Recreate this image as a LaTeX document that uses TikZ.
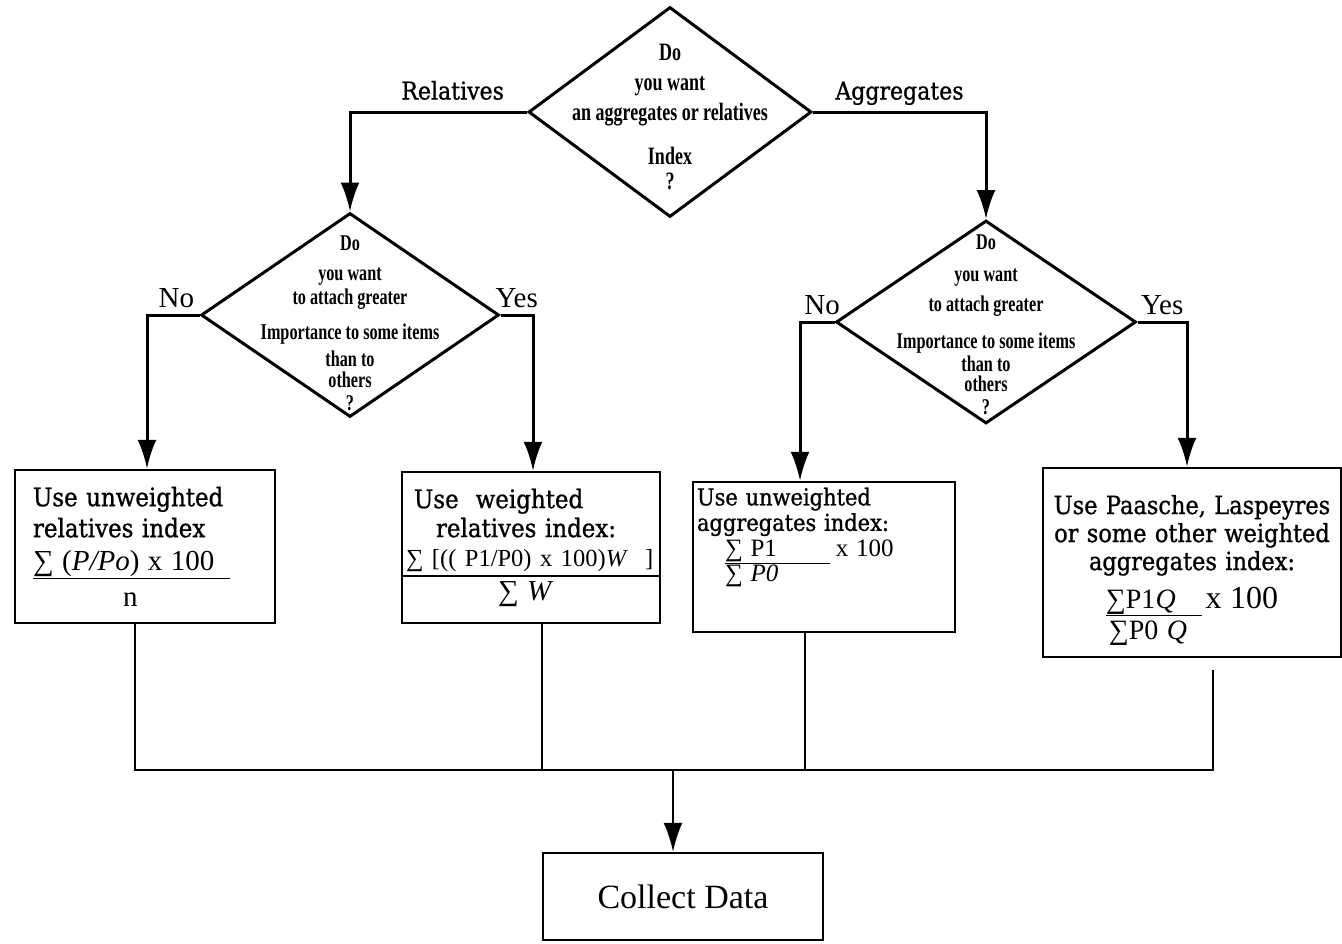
\documentclass[tikz,border=0pt]{standalone}
\usepackage{fontspec}
\setmainfont{Liberation Serif}
\newfontfamily\boxfont[FakeStretch=0.9,FakeBold=1]{DejaVu Serif}
\newfontfamily\qfont[FakeStretch=0.72]{Liberation Serif}
\newcommand\fmsz[1]{\rmfamily\fontsize{#1}{#1}\selectfont}
\usetikzlibrary{arrows.meta,calc,positioning,shapes.geometric}
\tikzset{%
	decision/.style = {draw, diamond, line width=3pt, inner sep=0pt}, % question
	qtext/.style    = {align=center, inner sep=0pt},
	process/.style  = {draw, rectangle, line width=2.5pt, inner sep=0pt},
	lbl/.style      = {font=\boxfont\fontsize{24.5}{28}\selectfont, text height=17pt, text depth=5pt, inner sep=6pt},
	yn/.style       = {font=\fontsize{29}{32}\selectfont, inner sep=6pt},
	arrow/.style    = {line width=3pt, -{Latex[length=29pt,width=19pt]}},
	link/.style     = {line width=2.2pt},
}

\begin{document}
\begin{tikzpicture}[x=1pt,y=1pt]
	\useasboundingbox (0,0) rectangle (1342,-943);
	% questions
	\node[decision, minimum width=283pt, minimum height=210pt] (Q1) at (670,-112) {};
	\node[decision, minimum width=298pt, minimum height=204pt] (QR) at (350,-315) {};
	\node[decision, minimum width=300pt, minimum height=203pt] (QA) at (986,-322) {};
	\node[qtext, font=\qfont\bfseries\fontsize{25}{30}\selectfont] (Q1t) at (670,-117)
		{Do\\you want\\an aggregates or relatives\\[14pt]Index\\[-5pt]?};
	\node[qtext, font=\qfont\bfseries\fontsize{22.5}{26}\selectfont] (QRt) at (350,-323)
		{Do\\[4pt]you want\\[-2pt]to attach greater\\[9pt]Importance to some items\\[1pt]than to\\[-5pt]others\\[-3pt]?};
	\node[qtext, font=\qfont\bfseries\fontsize{22.5}{26}\selectfont] (QAt) at (986,-325)
		{Do\\[6pt]you want\\[4pt]to attach greater\\[11pt]Importance to some items\\[-3pt]than to\\[-6pt]others\\[-3pt]?};
	% index boxes
	\node[process, minimum width=260pt, minimum height=153pt, text width=224pt, align=left,
		font=\boxfont\fontsize{25.5}{31}\selectfont] (B1) at (145,-546.5)
		{Use unweighted\\relatives index\\[2pt]{\fmsz{29}\underline{∑ (\textit{P/Po}) x 100\hspace*{16pt}}}\\[5pt]\hspace*{90pt}{\fmsz{29}n}};
	\node[process, minimum width=258pt, minimum height=151pt, text width=250pt, align=left,
		font=\boxfont\fontsize{25.5}{29}\selectfont] (B2) at (531,-547.5)
		{\hspace*{8pt}Use\ \ weighted\\\hspace*{30pt}relatives index:\\{\fmsz{24.5}∑ [(( P1/P0) x 100)\textit{W}\ \ ]}\\[5pt]\hspace*{92pt}{\fmsz{29}∑ \textit{W}}};
	\node[process, minimum width=262pt, minimum height=150pt, text width=254pt, align=left,
		font=\boxfont\fontsize{23.3}{25.5}\selectfont] (B3) at (824,-557)
		{Use unweighted\\aggregates index:\\\hspace*{28pt}{\fmsz{25}\underline{∑ P1\hspace*{53pt}}\hspace*{6pt}x 100}\\\hspace*{28pt}{\fmsz{25}∑ \textit{P0}}\\[19pt]\mbox{}};
	\node[process, minimum width=298pt, minimum height=189pt, text width=290pt, align=center,
		font=\boxfont\fontsize{25}{28}\selectfont] (B4) at (1192,-562.5)
		{\rule{0pt}{34pt}Use Paasche, Laspeyres\\or some other weighted\\aggregates index:\\[10pt]{\fmsz{28}\underline{∑P1\smash{\textit{Q}}\hspace*{26pt}}}\hspace*{4pt}{\fmsz{32}x 100}\\[3pt]{\fmsz{28}∑P0 \textit{Q}\hspace*{88pt}\mbox{}}};
	\node[process, minimum width=280pt, minimum height=87pt, font=\fontsize{34}{36}\selectfont] (CD) at (683,-896.5) {Collect Data};
	\draw[link] ([yshift=48pt]B2.south west) -- ([yshift=48pt]B2.south east);
	
	\coordinate (J) at (673,-770);
	\coordinate (S4) at (1213,-670);
	
	\draw[arrow] (Q1.west) -| node[lbl, above, pos=0.21] {Relatives} (QR.north);
	\draw[arrow] (Q1.east) -| node[lbl, above, pos=0.25] {Aggregates} (QA.north);
	\draw[arrow] (QR.west) -| node[yn, above, pos=0.22] {No} ([xshift=2pt]B1.north);
	\draw[arrow] (QR.east) -| node[yn, above, pos=0.25] {Yes} ([xshift=2pt]B2.north);
	\draw[arrow] (QA.west) -| node[yn, above, pos=0.18] {No} ([xshift=-24pt]B3.north);
	\draw[arrow] (QA.east) -| node[yn, above, pos=0.25] {Yes} ([xshift=-5pt]B4.north);
	\draw[link] ([xshift=-10pt]B1.south) |- (S4 |- J) -- (S4);
	\draw[link] ([xshift=11pt]B2.south) -- ([xshift=11pt]B2.south |- J);
	\draw[link] ([xshift=-19pt]B3.south) -- ([xshift=-19pt]B3.south |- J);
	\draw[arrow, line width=2.2pt] (J) -- ([xshift=-10pt]CD.north);
\end{tikzpicture}
\end{document}
